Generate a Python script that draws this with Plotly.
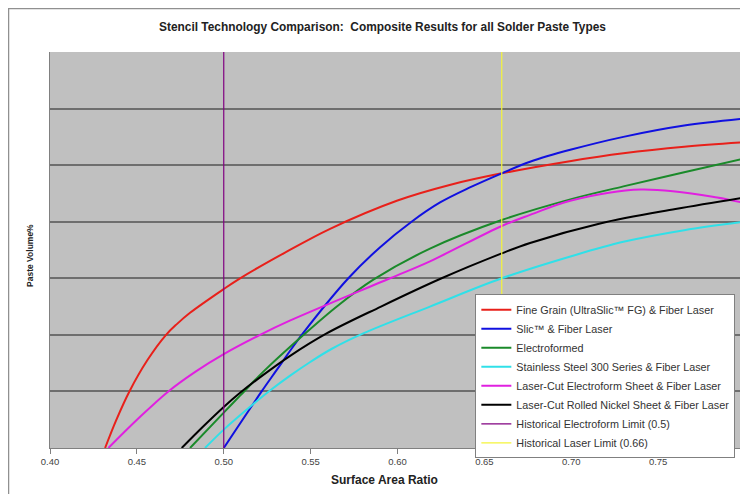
import plotly.graph_objects as go

# ---- data ----
fine_grain_x = [0.4317, 0.438, 0.4457, 0.456, 0.4668, 0.473, 0.4806, 0.50, 0.5094, 0.535, 0.5612, 0.60, 0.63, 0.66, 0.70, 0.73, 0.765, 0.80]
fine_grain_y = [0, 9.7, 20, 31, 40, 43.8, 47.8, 56.2, 60, 69, 77.5, 87.5, 93, 97.1, 101.5, 104.2, 106.5, 108.1]

slic_x = [0.50, 0.5218, 0.5305, 0.538, 0.5449, 0.5717, 0.59, 0.6081, 0.6245, 0.642, 0.66, 0.6763, 0.70, 0.73, 0.765, 0.80]
slic_y = [0, 20, 27.6, 34.2, 40, 60, 71, 80, 86.8, 92.2, 97.1, 101.2, 105.5, 110, 114, 116.5]

electro_x = [0.4806, 0.50, 0.5094, 0.5228, 0.545, 0.566, 0.5861, 0.6187, 0.66, 0.70, 0.73, 0.765, 0.80]
electro_y = [0, 12.5, 18.5, 27, 39.5, 50.5, 59.5, 70.5, 80.6, 88, 92.5, 97.5, 102.4]

stainless_x = [0.4892, 0.50, 0.515, 0.527, 0.538, 0.55, 0.562, 0.5803, 0.6187, 0.66, 0.70, 0.73, 0.765, 0.80]
stainless_y = [0, 6.5, 14.5, 20.5, 25.5, 30.5, 35, 40.5, 50, 60, 67.8, 72.9, 77, 80]

lc_electro_x = [0.4336, 0.4508, 0.4681, 0.484, 0.50, 0.5209, 0.538, 0.5957, 0.6187, 0.66, 0.6763, 0.70, 0.74, 0.784, 0.80]
lc_electro_y = [0, 10.4, 20, 27.1, 33.2, 40, 45, 60, 66, 78.5, 82.4, 87.5, 91.4, 88.6, 86.5]

lc_nickel_x = [0.4758, 0.488, 0.50, 0.5094, 0.522, 0.538, 0.5592, 0.5905, 0.6254, 0.66, 0.6763, 0.7166, 0.76, 0.80]
lc_nickel_y = [0, 7.5, 14.5, 19.5, 25.5, 32.5, 40.5, 50, 60, 68.8, 72.5, 79.4, 84.5, 88.6]

electro_limit = 0.5
laser_limit = 0.66
y_min, y_max = 0, 140

series = [
    ("Fine Grain (UltraSlic\u2122 FG) & Fiber Laser", fine_grain_x, fine_grain_y, "#E8201A"),
    ("Slic\u2122 & Fiber Laser", slic_x, slic_y, "#1010E0"),
    ("Electroformed", electro_x, electro_y, "#1A8A2A"),
    ("Stainless Steel 300 Series & Fiber Laser", stainless_x, stainless_y, "#30E0E8"),
    ("Laser-Cut Electroform Sheet & Fiber Laser", lc_electro_x, lc_electro_y, "#E020E0"),
    ("Laser-Cut Rolled Nickel Sheet & Fiber Laser", lc_nickel_x, lc_nickel_y, "#000000"),
]

fig = go.Figure()
for name, xs, ys, col in series:
    fig.add_trace(go.Scatter(x=xs, y=ys, mode="lines", name=name,
                             line=dict(color=col, width=2, shape="spline", smoothing=1.0)))

fig.add_trace(go.Scatter(x=[electro_limit, electro_limit], y=[y_min, y_max], mode="lines",
                         name="Historical Electroform Limit (0.5)",
                         line=dict(color="#800080", width=1.2)))
fig.add_trace(go.Scatter(x=[laser_limit, laser_limit], y=[y_min, y_max], mode="lines",
                         name="Historical Laser Limit (0.66)",
                         line=dict(color="#F4F43A", width=1.2)))

FONT = "Liberation Sans, Arial, sans-serif"

# page has an 8px body margin, so the figure is drawn 8px in from the window edge
fig.update_layout(
    width=740, height=486,
    margin=dict(l=42, r=3, t=44, b=46),
    paper_bgcolor="white",
    plot_bgcolor="#C0C0C0",
    font=dict(family=FONT, size=9, color="#333333"),
    showlegend=True,
    legend=dict(x=0.612, y=0.388, xanchor="left", yanchor="top",
                bgcolor="white", bordercolor="#808080", borderwidth=1,
                font=dict(family=FONT, size=10.8, color="#333333"),
                tracegroupgap=0, itemwidth=30),
    xaxis=dict(range=[0.40, 0.80], dtick=0.05, tickformat=".2f",
               showgrid=False, zeroline=False,
               showline=True, linecolor="#808080", linewidth=1,
               ticks="outside", ticklen=5, tickcolor="#808080",
               tickfont=dict(family=FONT, size=9.5, color="#444444")),
    yaxis=dict(range=[y_min, y_max], dtick=20, showticklabels=False,
               showgrid=True, gridcolor="#6E6E6E", gridwidth=1.5,
               zeroline=False, showline=True, linecolor="#808080", linewidth=1,
               ticks=""),
    annotations=[
        dict(text="<b>Stencil Technology Comparison:  Composite Results for all Solder Paste Types</b>",
             xref="paper", yref="paper", x=0.479, y=1.063, xanchor="center", yanchor="middle",
             showarrow=False, font=dict(family=FONT, size=11.9, color="#222222")),
        dict(text="<b>Paste Volume%</b>", xref="paper", yref="paper",
             x=-0.029, y=0.487, xanchor="center", yanchor="middle",
             showarrow=False, textangle=-90,
             font=dict(family=FONT, size=8.5, color="#222222")),
        dict(text="<b>Surface Area Ratio</b>", xref="paper", yref="paper",
             x=0.482, y=-0.081, xanchor="center", yanchor="middle", showarrow=False,
             font=dict(family=FONT, size=12, color="#222222")),
    ],
    shapes=[
        dict(type="rect", xref="paper", yref="paper",
             x0=-0.0597, x1=1.2, y0=-0.3, y1=1.1098,
             line=dict(color="#909090", width=1.5), layer="below"),
    ],
)

fig.write_html("out.html")
